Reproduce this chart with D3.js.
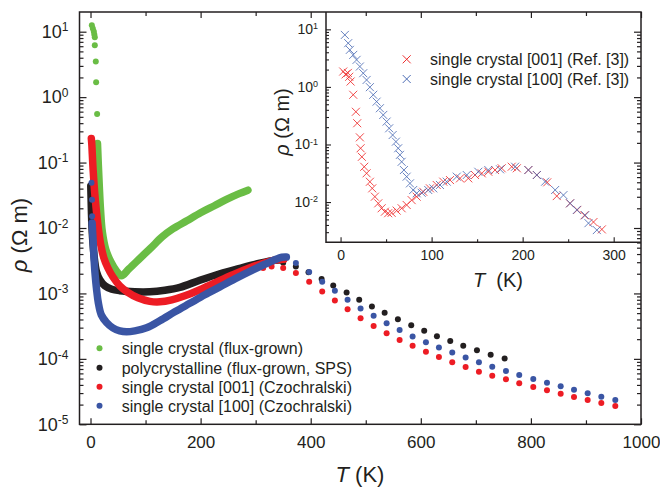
<!DOCTYPE html>
<html>
<head>
<meta charset="utf-8">
<script src="https://cdn.jsdelivr.net/npm/d3@7"></script>
<style>
  body { margin: 0; background: #fff; }
  text { font-family: "Liberation Sans", Arial, sans-serif; fill: #231f20; }
</style>
</head>
<body>
<div id="chart"></div>
<script>
// ---- main panel data: [T (K), rho (Ohm m)] ----
const fluxDots = [[2.4,12.5],[4.2,11.2],[6,10.1],[6.9,9.1],[7.8,8.2],[7.8,6.2],[9.6,3.5],[10.2,1.69],[12,0.55]];
const fluxBand = [[12.7,0.195],[14.2,0.093],[16,0.043],[18.2,0.019],[21.4,0.0088],[27.8,0.00466],[36.9,0.00305],
  [46.9,0.00222],[56,0.00186],[70,0.00238],[90,0.00345],[110,0.005],[130,0.0073],[150,0.00975],[175,0.0129],
  [200,0.0171],[225,0.0219],[250,0.0281],[270,0.0335],[286,0.0379]];

const polyBand = [[0.5,0.044],[1.1,0.027],[1.8,0.016],[2.9,0.0094],[4.7,0.0055],[7.3,0.00327],[10.9,0.00214],
  [16.9,0.00162],[26,0.00131],[38.7,0.00116],[53.2,0.0011],[80.5,0.00106],[107.8,0.00106],[135,0.00112],
  [162.3,0.00124],[198.6,0.00159],[235,0.002],[271.3,0.00242],[307.6,0.00289],[334.9,0.00321],[349.4,0.00327]];
const polyDots = [[350,0.00294],[373,0.00258],[396,0.0021],[419.8,0.00166],[440.9,0.00132],[465.2,0.00103],
  [488.1,0.000798],[511.2,0.00063],[534.3,0.000505],[558.4,0.000404],[582.6,0.000327],[606.2,0.000268],
  [629.3,0.000222],[653.5,0.000188],[677.1,0.000158],[702,0.000136],[726.9,0.000116],[752.3,0.000101]];

const czo001Band = [[1.5,0.233],[2.4,0.188],[3.3,0.132],[4.7,0.078],[6.5,0.046],[8.7,0.027],[11.4,0.016],
  [14.5,0.0094],[18.7,0.0055],[24.2,0.0035],[31.4,0.00247],[40.5,0.0018],[53.2,0.00131],[67.8,0.00104],
  [86,0.000857],[107.8,0.000757],[125.9,0.000744],[147.7,0.000798],[171.4,0.00092],[198.6,0.00114],
  [225.9,0.00145],[258.6,0.00193],[289.5,0.00247],[316.7,0.00294],[338.5,0.00327],[351.3,0.00333]];
const czo001Dots = [[313.6,0.00244],[328.9,0.00258],[350,0.00244],[373.1,0.00205],[397.2,0.00151],[420.9,0.00107],
  [443.9,0.00078],[467,0.000575],[490.6,0.000419],[514.3,0.000319],[537.9,0.000247],[561.5,0.000195],
  [585.1,0.000158],[609.3,0.000129],[632.9,0.000107],[657.1,8.89e-5],[681.4,7.54e-5],[705.6,6.38e-5],
  [729.8,5.54e-5],[754.7,4.89e-5],[778.8,4.24e-5],[804.3,3.72e-5],[829.2,3.31e-5],[854.1,2.94e-5],
  [878.3,2.62e-5],[903.1,2.35e-5],[927.9,2.12e-5],[953.3,1.91e-5]];

const czo100Band = [[2.9,0.0119],[3.8,0.0088],[5.1,0.0055],[6.5,0.00327],[8.4,0.00193],[11.1,0.00114],
  [14.2,0.00072],[19.6,0.00047],[29.1,0.00036],[40.5,0.000298],[53.2,0.000268],[65.4,0.000259],[80.5,0.000268],
  [101.8,0.000298],[125.9,0.000381],[153.2,0.000523],[180.4,0.000706],[207.7,0.000953],[235,0.00126],
  [262.2,0.00167],[289.5,0.00218],[316.7,0.00279],[334.9,0.00327],[347.6,0.00357],[355.8,0.0036]];
const czo100Dots = [[1.8,0.049],[2.7,0.027],[2.9,0.0151],[373.1,0.00291],[397.2,0.00212],[420.9,0.00151],
  [443.9,0.0011],[467,0.000798],[490.6,0.000587],[514.3,0.000454],[537.9,0.000351],[561.5,0.000275],
  [585.1,0.000219],[609.3,0.00018],[632.9,0.000149],[657.1,0.000125],[681.4,0.000105],[705.6,8.89e-5],
  [729.8,7.61e-5],[754.7,6.54e-5],[778.8,5.68e-5],[804.3,4.93e-5],[829.2,4.33e-5],[854.1,3.81e-5],
  [878.3,3.38e-5],[903.1,2.98e-5],[927.9,2.64e-5],[953.3,2.35e-5]];

const mainLegend = ["single crystal (flux-grown)", "polycrystalline (flux-grown, SPS)",
  "single crystal [001] (Czochralski)", "single crystal [100] (Czochralski)"];

// ---- inset data (Ref. [3]) ----
const ref001 = [[2.9,1.85],[5.5,1.65],[8,1.75],[9.5,1.5],[11,1.24],[13.9,0.73],[16.8,0.37],[18.3,0.234],
  [21.2,0.133],[22,0.086],[23.4,0.061],[26,0.041],[28.6,0.0316],[32.2,0.0225],[34.8,0.0173],[37.7,0.0124],
  [41.4,0.0095],[45.1,0.0078],[48.7,0.0068],[52.3,0.0064],[56.1,0.0065],[61.6,0.0071],[67.1,0.0078],
  [72.6,0.0089],[78.1,0.0108],[83.6,0.0124],[90.8,0.0151],[98.2,0.0173],[105.6,0.0198],[112.8,0.0226],
  [120.2,0.0241],[131.2,0.0258],[140.3,0.0258],[147.7,0.0295],[155.1,0.0315],[162.3,0.0336],[169.7,0.036],
  [177,0.0386],[188,0.0411],[193.6,0.0386],[206.3,0.036],[215.6,0.0295],[227,0.022],[237.5,0.0127],
  [252,0.0095],[260,0.0073],[268,0.0059],[277.8,0.0045],[287,0.00335]];
const ref100 = [[4.7,8.0],[8.4,5.75],[10.2,4.4],[13.9,3.6],[17.6,2.95],[21.2,2.26],[24.9,1.73],[28.6,1.32],
  [32.2,0.99],[35.9,0.73],[39.6,0.555],[43.2,0.426],[46.9,0.326],[50.6,0.25],[53.4,0.191],[57.2,0.146],
  [60.8,0.112],[63.3,0.086],[65.2,0.066],[67.1,0.05],[69.6,0.036],[72.6,0.0276],[76.2,0.0211],[79.8,0.0162],
  [83.6,0.0142],[89.1,0.0145],[96.3,0.0162],[101.8,0.0173],[109.2,0.0198],[116.6,0.0226],[127.6,0.0276],
  [138.6,0.0295],[151.3,0.0336],[162.3,0.036],[175.2,0.037],[191.7,0.0411],[206.3,0.036],[215.6,0.0295],
  [224.7,0.0226],[235.7,0.0162],[244.8,0.0132],[252.2,0.0095],[259.5,0.0073],[268.7,0.0059],[272.3,0.0043],
  [281.5,0.00326]];
const insetLegend = ["single crystal [001] (Ref. [3])", "single crystal [100] (Ref. [3])"];

const colGreen = "#6abd45", colBlack = "#231f20", colRed = "#ed1c24", colBlue = "#3a55a4";
const colRedX = "#ee2d2d", colBlueX = "#4d6db5";

const svg = d3.select("#chart").append("svg")
  .attr("width", 660).attr("height", 488);

// scales
const x = d3.scaleLinear().domain([-20, 1000]).range([79.5, 641]);
const y = d3.scaleLog().domain([1e-5, 20]).range([424.3, 12]);
const xi = d3.scaleLinear().domain([-16, 330]).range([326, 641]);
const yi = d3.scaleLog().domain([2e-3, 20]).range([242.3, 12]);

function minorLog(lo, hi) {
  const v = [];
  for (let e = lo; e <= hi; e++) for (let k = 2; k <= 9; k++) v.push(k * Math.pow(10, e));
  return v;
}
function supLabels(sel, size, supSize) {
  sel.selectAll("text").each(function (d) {
    const t = d3.select(this);
    const e = Math.round(Math.log10(d));
    t.text("").style("font-size", size + "px");
    t.append("tspan").text("10");
    t.append("tspan").attr("dy", "-0.55em").style("font-size", supSize + "px").text(String(e));
  });
}

// ---- main data ----
const line = (sx, sy) => d3.line().x(d => sx(d[0])).y(d => sy(d[1])).curve(d3.curveCatmullRom);
const series = [
  { band: fluxBand, dots: fluxDots, c: colGreen },
  { band: polyBand, dots: polyDots, c: colBlack },
  { band: czo001Band, dots: czo001Dots, c: colRed },
  { band: czo100Band, dots: czo100Dots, c: colBlue }
];
series.forEach(s => {
  svg.append("path").datum(s.band)
    .attr("d", line(x, y))
    .attr("fill", "none").attr("stroke", s.c).attr("stroke-width", 7.5)
    .attr("stroke-linecap", "round").attr("stroke-linejoin", "round");
  svg.append("g").selectAll("circle").data(s.dots).enter().append("circle")
    .attr("cx", d => x(d[0])).attr("cy", d => y(d[1])).attr("r", 3)
    .attr("fill", s.c);
});

// ---- main axes (ticks inward) ----
const xMajor = [0, 200, 400, 600, 800, 1000], xMinor = [100, 300, 500, 700, 900];
const yMajor = [1e-5, 1e-4, 1e-3, 1e-2, 1e-1, 1, 10], yMinor = minorLog(-5, 1).filter(v => v < 20);

const gb = svg.append("g").attr("transform", "translate(0,424.3)")
  .call(d3.axisBottom(x).tickValues(xMajor).tickFormat(d3.format("d"))
    .tickSizeInner(-6).tickSizeOuter(0).tickPadding(12));
gb.selectAll("text").style("font-size", "17px");
svg.append("g").attr("transform", "translate(0,424.3)")
  .call(d3.axisBottom(x).tickValues(xMinor).tickSizeInner(-4).tickSizeOuter(0).tickFormat(""));
svg.append("g").attr("transform", "translate(0,12)")
  .call(d3.axisTop(x).tickValues(xMajor).tickSizeInner(-6).tickSizeOuter(0).tickFormat(""));
svg.append("g").attr("transform", "translate(0,12)")
  .call(d3.axisTop(x).tickValues(xMinor).tickSizeInner(-4).tickSizeOuter(0).tickFormat(""));

const gl = svg.append("g").attr("transform", "translate(79.5,0)")
  .call(d3.axisLeft(y).tickValues(yMajor).tickSizeInner(-7).tickSizeOuter(0).tickPadding(11));
supLabels(gl, 18, 12);
svg.append("g").attr("transform", "translate(79.5,0)")
  .call(d3.axisLeft(y).tickValues(yMinor).tickSizeInner(-4).tickSizeOuter(0).tickFormat(""));
svg.append("g").attr("transform", "translate(641,0)")
  .call(d3.axisRight(y).tickValues(yMajor).tickSizeInner(-7).tickSizeOuter(0).tickFormat(""));
svg.append("g").attr("transform", "translate(641,0)")
  .call(d3.axisRight(y).tickValues(yMinor).tickSizeInner(-4).tickSizeOuter(0).tickFormat(""));

svg.selectAll(".domain").remove();
svg.selectAll(".tick line").attr("stroke", colBlack).attr("stroke-width", 1.2);

svg.append("rect").attr("x", 79.5).attr("y", 12).attr("width", 641 - 79.5).attr("height", 424.3 - 12)
  .attr("fill", "none").attr("stroke", colBlack).attr("stroke-width", 1.5);

// axis titles
const xt = svg.append("text").attr("x", 360).attr("y", 482).attr("text-anchor", "middle").style("font-size", "22px");
xt.append("tspan").style("font-style", "italic").text("T");
xt.append("tspan").text(" (K)");
const yt = svg.append("text").attr("transform", "translate(27,235) rotate(-90)")
  .attr("text-anchor", "middle").style("font-size", "22px");
yt.append("tspan").style("font-style", "italic").text("ρ");
yt.append("tspan").text(" (Ω m)");

// main legend
const mainCols = [colGreen, colBlack, colRed, colBlue];
const rowY = [348.3, 367.7, 386.8, 405.8];
const lg = svg.append("g");
lg.selectAll("circle").data(mainLegend).enter().append("circle")
  .attr("cx", 99.5).attr("cy", (d, i) => rowY[i]).attr("r", 3).attr("fill", (d, i) => mainCols[i]);
lg.selectAll("text").data(mainLegend).enter().append("text")
  .attr("x", 121.7).attr("y", (d, i) => rowY[i] + 6).style("font-size", "16px").text(d => d);

// ---- inset ----
const inset = svg.append("g");

function crosses(data, c) {
  inset.append("g").selectAll("path").data(data).enter().append("path")
    .attr("d", d => {
      const cx = xi(d[0]), cy = yi(d[1]), h = 4;
      return `M${cx - h},${cy - h}L${cx + h},${cy + h}M${cx - h},${cy + h}L${cx + h},${cy - h}`;
    })
    .attr("stroke", c).attr("stroke-width", 1).attr("fill", "none").attr("opacity", 0.85);
}
crosses(ref001, colRedX);
crosses(ref100, colBlueX);

const ib = inset.append("g").attr("transform", "translate(0,242.3)")
  .call(d3.axisBottom(xi).tickValues([0, 100, 200, 300]).tickSizeInner(-5).tickSizeOuter(0).tickPadding(8));
ib.selectAll("text").style("font-size", "14px");
inset.append("g").attr("transform", "translate(0,242.3)")
  .call(d3.axisBottom(xi).tickValues([50, 150, 250]).tickSizeInner(-3).tickSizeOuter(0).tickFormat(""));
const il = inset.append("g").attr("transform", "translate(326,0)")
  .call(d3.axisLeft(yi).tickValues([1e-2, 1e-1, 1, 10]).tickSizeInner(-5).tickSizeOuter(0).tickPadding(8));
supLabels(il, 14, 9);
inset.append("g").attr("transform", "translate(326,0)")
  .call(d3.axisLeft(yi).tickValues(minorLog(-3, 1).filter(v => v > 2e-3 && v < 20)).tickSizeInner(-3).tickSizeOuter(0).tickFormat(""));
inset.selectAll(".domain").remove();
inset.selectAll(".tick line").attr("stroke", colBlack).attr("stroke-width", 1.1);
inset.append("path").attr("d", "M326,12V242.3H641").attr("fill", "none").attr("stroke", colBlack).attr("stroke-width", 1.5);

const ixt = inset.append("text").attr("x", 498).attr("y", 286.5).attr("text-anchor", "middle").style("font-size", "20px");
ixt.append("tspan").style("font-style", "italic").text("T");
ixt.append("tspan").text("  (K)").attr("xml:space", "preserve");
const iyt = inset.append("text").attr("transform", "translate(289,122) rotate(-90)")
  .attr("text-anchor", "middle").style("font-size", "20px");
iyt.append("tspan").style("font-style", "italic").text("ρ");
iyt.append("tspan").text(" (Ω m)");

const insetCols = [colRedX, colBlueX], irow = [59.3, 79];
insetLegend.forEach((t, i) => {
  const cx = 406.7, cy = irow[i], h = 4;
  inset.append("path").attr("d", `M${cx - h},${cy - h}L${cx + h},${cy + h}M${cx - h},${cy + h}L${cx + h},${cy - h}`)
    .attr("stroke", insetCols[i]).attr("stroke-width", 1);
  inset.append("text").attr("x", 430).attr("y", cy + 6).style("font-size", "16px").text(t);
});
</script>
</body>
</html>
